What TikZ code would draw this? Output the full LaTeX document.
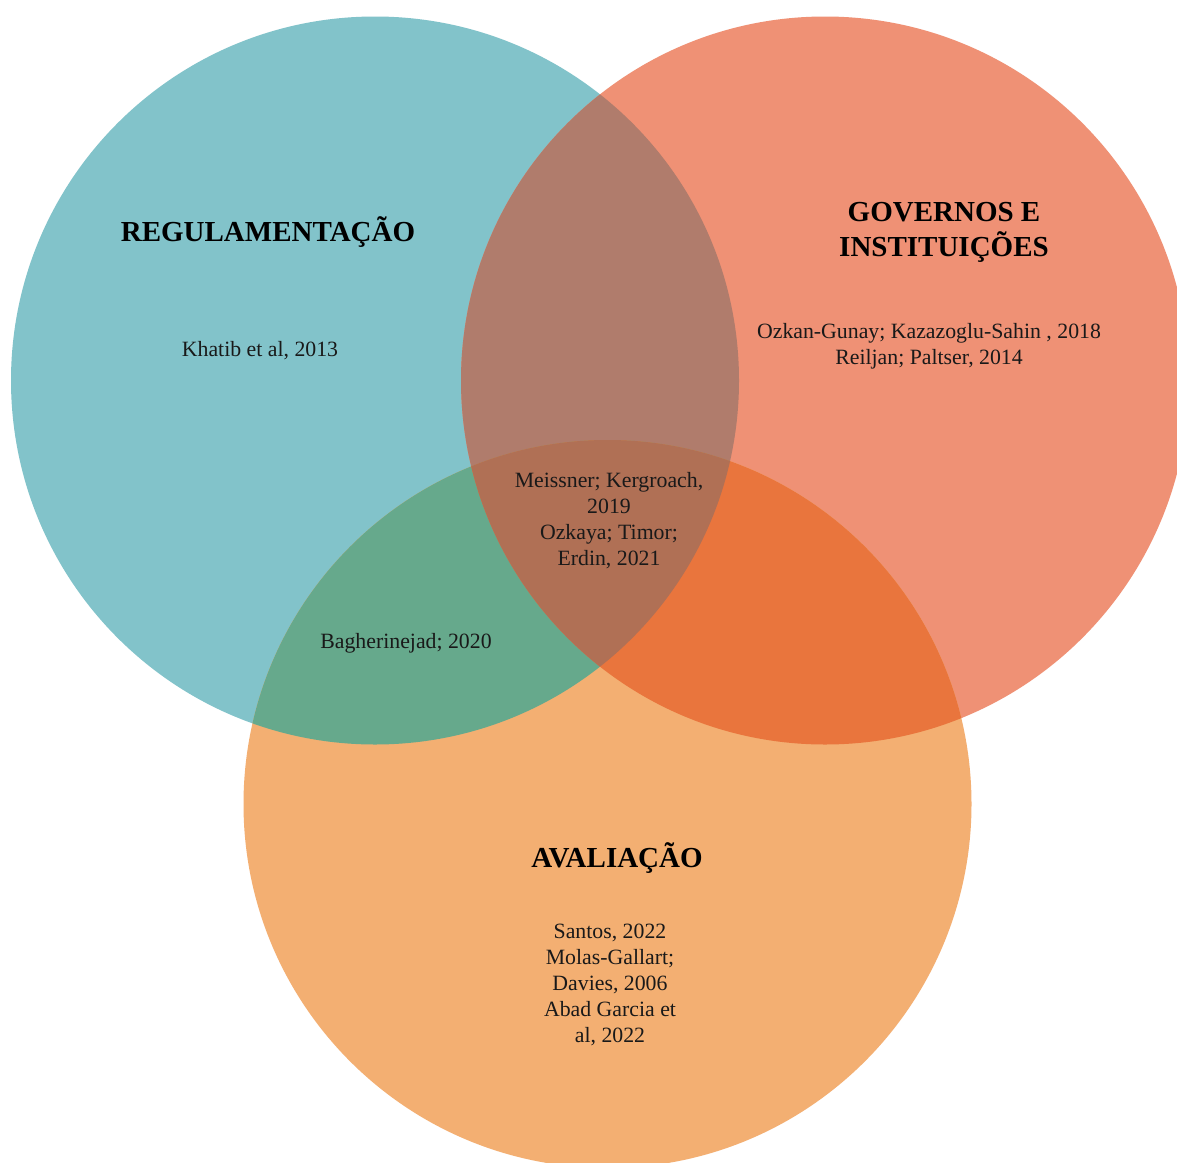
\documentclass[tikz,border=0pt]{standalone}
\usepackage{fontspec}
\setmainfont{Liberation Serif}
\definecolor{cblue}{HTML}{82C3CA}
\definecolor{csalmon}{HTML}{EF9175}
\definecolor{corange}{HTML}{F3AF72}
\definecolor{cbs}{HTML}{B07C6C}
\definecolor{cbo}{HTML}{66A98C}
\definecolor{cso}{HTML}{E9753D}
\definecolor{call}{HTML}{B07055}
\tikzset{
  title/.style={font=\fontsize{29}{35}\selectfont\bfseries, align=center, text=black, inner sep=0pt},
  ref/.style={font=\fontsize{21.8}{26}\selectfont, align=center, text=black!90, inner sep=0pt}
}
\begin{document}
\begin{tikzpicture}[x=1pt,y=-1pt]
\useasboundingbox (0,0) rectangle (1177,1162);
\fill[white] (0,0) rectangle (1177,1162);
\begin{scope}
\clip (0,0) rectangle (1177,1162);
\coordinate (cB) at (375,380.5);
\coordinate (cS) at (825,380.5);
\coordinate (cO) at (607.5,804);
\fill[cblue] (cB) circle[radius=364pt];
\fill[csalmon] (cS) circle[radius=364pt];
\fill[corange] (cO) circle[radius=364pt];
\begin{scope}
  \clip (cB) circle[radius=364pt];
  \fill[cbs] (cS) circle[radius=364pt];
  \fill[cbo] (cO) circle[radius=364pt];
\end{scope}
\begin{scope}
  \clip (cS) circle[radius=364pt];
  \fill[cso] (cO) circle[radius=364pt];
\end{scope}
\begin{scope}
  \clip (cB) circle[radius=364pt];
  \clip (cS) circle[radius=364pt];
  \fill[call] (cO) circle[radius=364pt];
\end{scope}
\end{scope}

\node[title] (treg) at (268,232) {REGULAMENTAÇÃO};
\node[ref] (rkh) at (260,351) {Khatib et al, 2013};
\node[title] (tgov) at (944,232) {GOVERNOS E\\INSTITUIÇÕES};
\node[ref] (rgov) at (929,346) {Ozkan-Gunay; Kazazoglu-Sahin , 2018\\Reiljan; Paltser, 2014};
\node[ref] (rall) at (609,521) {Meissner; Kergroach,\\2019\\Ozkaya; Timor;\\Erdin, 2021};
\node[ref] (rbo) at (406,643) {Bagherinejad; 2020};
\node[title] (taval) at (617,858) {AVALIAÇÃO};
\node[ref] (raval) at (610,985) {Santos, 2022\\Molas-Gallart;\\Davies, 2006\\Abad Garcia et\\al, 2022};
\end{tikzpicture}
\end{document}
